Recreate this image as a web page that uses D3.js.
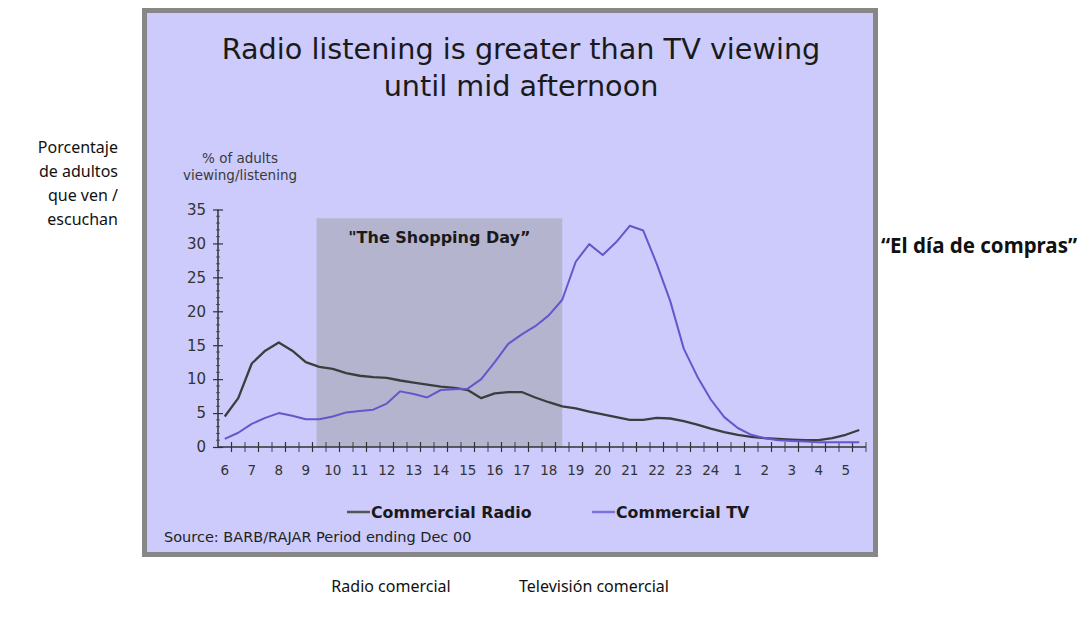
<!DOCTYPE html>
<html><head><meta charset="utf-8">
<script src="https://cdn.jsdelivr.net/npm/d3@7"></script>
<style>body{margin:0;background:#fff}svg{display:block}</style>
</head><body>
<svg id="chart" width="1089" height="621"></svg>
<script>
// ---- data ----
const hours = [6,6.5,7,7.5,8,8.5,9,9.5,10,10.5,11,11.5,12,12.5,13,13.5,14,14.5,15,15.5,16,16.5,17,17.5,
               18,18.5,19,19.5,20,20.5,21,21.5,22,22.5,23,23.5,24,24.5,25,25.5,26,26.5,27,27.5,28,28.5,29,29.5];
const radio = [4.5,7.2,12.3,14.2,15.4,14.2,12.5,11.8,11.5,10.9,10.5,10.3,10.2,9.8,9.5,9.2,8.9,8.7,8.4,7.2,7.9,8.1,8.1,7.3,
               6.6,6.0,5.7,5.2,4.8,4.4,4.0,4.0,4.3,4.2,3.8,3.3,2.7,2.2,1.8,1.5,1.3,1.2,1.1,1.0,1.0,1.3,1.8,2.5];
const tv    = [1.2,2.1,3.4,4.3,5.0,4.6,4.1,4.1,4.5,5.1,5.3,5.5,6.4,8.2,7.8,7.3,8.4,8.5,8.6,10.0,12.5,15.2,16.6,17.8,
               19.4,21.7,27.3,29.9,28.3,30.2,32.6,31.9,27.0,21.5,14.5,10.4,7.0,4.4,2.8,1.8,1.3,1.0,0.9,0.8,0.7,0.7,0.7,0.7];
const labelHours = [6,7,8,9,10,11,12,13,14,15,16,17,18,19,20,21,22,23,24,25,26,27,28,29];
const hourLabels = ["6","7","8","9","10","11","12","13","14","15","16","17","18","19","20","21","22","23","24","1","2","3","4","5"];
const minorTicks = [6.25,6.75,7.25,7.75,8.25,8.75,9.25,9.75,10.25,10.75,11.25,11.75,12.25,12.75,13.25,13.75,14.25,14.75,
                    15.25,15.75,16.25,16.75,17.25,17.75,18.25,18.75,19.25,19.75,20.25,20.75,21.25,21.75,22.25,22.75,
                    23.25,23.75,24.25,24.75,25.25,25.75,26.25,26.75,27.25,27.75,28.25,28.75,29.25,29.75];
const yTicks = [0,5,10,15,20,25,30,35];
const yMinor = [1,2,3,4,6,7,8,9,11,12,13,14,16,17,18,19,21,22,23,24,26,27,28,29,31,32,33,34];
const shoppingDay = {from: 9.4, to: 18.5, top: 33.7};
const seriesNames = ["Commercial Radio","Commercial TV"];
const title = ["Radio listening is greater than TV viewing","until mid afternoon"];
const yTitle = ["% of adults","viewing/listening"];
const source = "Source: BARB/RAJAR Period ending Dec 00";
const spanishY = ["Porcentaje","de adultos","que ven /","escuchan"];
const spanishShop = "\u201CEl día de compras\u201D";
const spanishLegend = ["Radio comercial","Televisión comercial"];

// ---- drawing ----
const svg = d3.select("#chart");
const font = "'DejaVu Sans', Verdana, sans-serif";
const x = d3.scaleLinear().domain([5.75, 29.75]).range([218, 866]);
const y = d3.scaleLinear().domain([0, 35]).range([447, 209.5]);

// panel
svg.append("rect").attr("x",144.5).attr("y",10.5).attr("width",731).attr("height",544)
  .attr("fill","#cccbfc").attr("stroke","#878787").attr("stroke-width",5);

// shopping day box
svg.append("rect").attr("x",x(shoppingDay.from)).attr("y",y(shoppingDay.top))
  .attr("width",x(shoppingDay.to)-x(shoppingDay.from)).attr("height",y(0)-y(shoppingDay.top))
  .attr("fill","#b5b4cf");
svg.append("text").attr("x",(x(shoppingDay.from)+x(shoppingDay.to))/2).attr("y",y(shoppingDay.top)+25)
  .attr("text-anchor","middle").attr("font-family",font).attr("font-weight","bold").attr("font-size",16)
  .attr("fill","#1a1a1a").text("\"The Shopping Day\u201D");

// title
svg.append("g").selectAll("text").data(title).join("text")
  .attr("x",521).attr("y",(d,i)=>59+i*37).attr("text-anchor","middle")
  .attr("font-family",font).attr("font-size",28.7).attr("fill","#1a1a1a").text(d=>d);

// y title
svg.append("g").selectAll("text").data(yTitle).join("text")
  .attr("x",240).attr("y",(d,i)=>163+i*17).attr("text-anchor","middle")
  .attr("font-family",font).attr("font-size",13.5).attr("fill","#3a3a3a").text(d=>d);

// y axis
const yAxisL = d3.axisLeft(y).tickValues(yTicks).tickSize(5).tickPadding(7);
const gy = svg.append("g").attr("transform","translate(218,0)").call(yAxisL);
gy.select(".domain").attr("stroke","#333").attr("stroke-width",1.5).attr("d","M0,"+y(35)+"V"+y(0));
gy.selectAll(".tick line").attr("stroke","#333").attr("x1",5).attr("x2",-5).attr("stroke-width",1.2);
gy.selectAll(".tick text").attr("font-family",font).attr("font-size",15).attr("fill","#333");
gy.selectAll("line.m").data(yMinor).join("line").attr("class","m")
  .attr("x1",-1.8).attr("x2",1.8).attr("y1",d=>y(d)).attr("y2",d=>y(d)).attr("stroke","#444").attr("stroke-width",1);

// x axis
const gx = svg.append("g").attr("transform","translate(0,447)");
gx.append("line").attr("x1",218).attr("x2",866).attr("stroke","#333").attr("stroke-width",1.5);
gx.selectAll("line.t").data(minorTicks).join("line").attr("class","t")
  .attr("x1",d=>x(d)).attr("x2",d=>x(d)).attr("y1",-5).attr("y2",5)
  .attr("stroke","#333").attr("stroke-width",1.2).attr("opacity",(d,i)=>i%2? 0.75:1);
gx.selectAll("text").data(labelHours).join("text")
  .attr("x",d=>x(d)).attr("y",28).attr("text-anchor","middle")
  .attr("font-family",font).attr("font-size",13.5).attr("fill","#333").text((d,i)=>hourLabels[i]);

// lines
const line = d3.line().x((d,i)=>x(hours[i])).y(d=>y(d)).curve(d3.curveLinear);
svg.append("path").datum(radio).attr("d",line).attr("fill","none").attr("stroke","#3d3d3d").attr("stroke-width",2.3).attr("stroke-linejoin","round");
svg.append("path").datum(tv).attr("d",line).attr("fill","none").attr("stroke","#6656cc").attr("stroke-width",2).attr("stroke-linejoin","round");

// legend
const legend = [{x:347, c:"#555"},{x:592, c:"#8070dd"}];
legend.forEach((l,i)=>{
  svg.append("line").attr("x1",l.x).attr("x2",l.x+23).attr("y1",512).attr("y2",512).attr("stroke",l.c).attr("stroke-width",2.5);
  svg.append("text").attr("x",l.x+24).attr("y",517.5).attr("font-family",font).attr("font-weight","bold")
    .attr("font-size",15.8).attr("fill","#1a1a1a").text(seriesNames[i]);
});

// source
svg.append("text").attr("x",164).attr("y",542).attr("font-family",font).attr("font-size",14.5)
  .attr("fill","#222").text(source);

// spanish annotations
svg.append("g").selectAll("text").data(spanishY).join("text")
  .attr("x",118).attr("y",(d,i)=>153+i*24).attr("text-anchor","end")
  .attr("font-family","'Noto Sans', sans-serif").attr("font-size",16).attr("fill","#111").text(d=>d);
svg.append("text").attr("x",881).attr("y",253).attr("font-family","'Noto Sans', sans-serif")
  .attr("font-weight","bold").attr("font-size",20.5).attr("fill","#111").text(spanishShop);
svg.append("g").selectAll("text").data(spanishLegend).join("text")
  .attr("x",(d,i)=>[391,594][i]).attr("y",592).attr("text-anchor","middle")
  .attr("font-family","'Noto Sans', sans-serif").attr("font-size",16).attr("fill","#111").text(d=>d);
</script>
</body></html>
